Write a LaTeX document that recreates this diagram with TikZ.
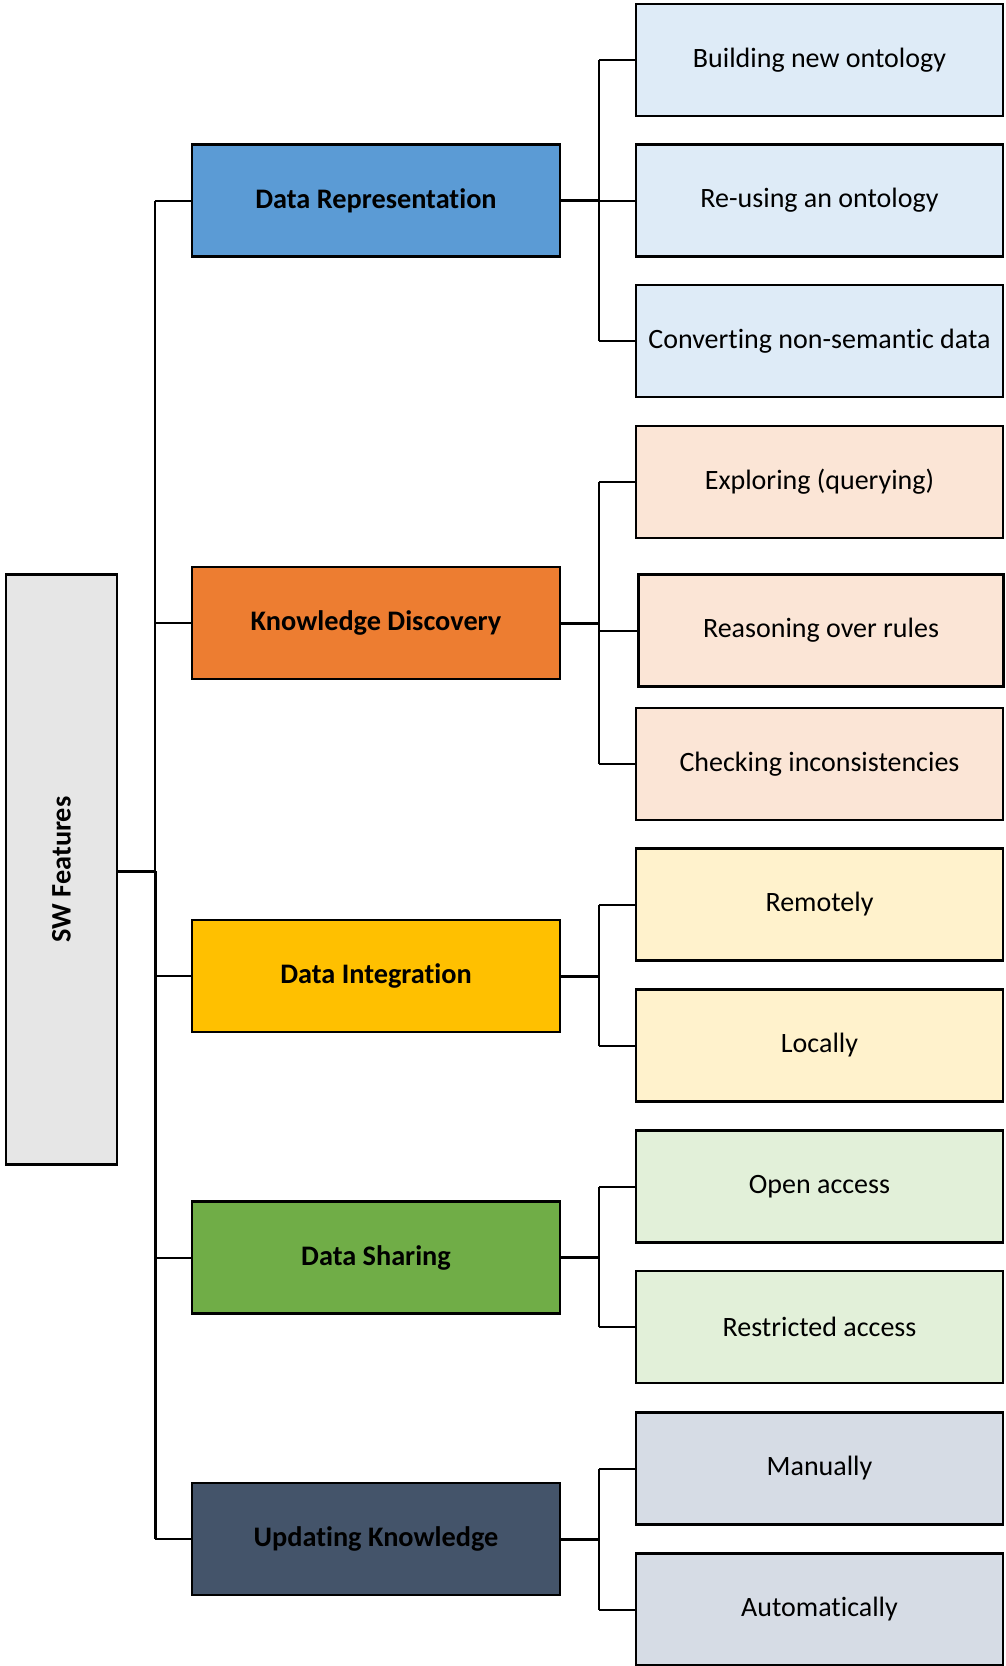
\documentclass[tikz,border=0pt]{standalone}
\usepackage{fontspec}
\setmainfont{Carlito}[Ligatures={NoCommon}]
\definecolor{cDR}{HTML}{5B9BD5}
\definecolor{cKD}{HTML}{ED7D31}
\definecolor{cDI}{HTML}{FFC000}
\definecolor{cDS}{HTML}{70AD47}
\definecolor{cUK}{HTML}{44546A}
\definecolor{lDR}{HTML}{DEEBF7}
\definecolor{lKD}{HTML}{FBE5D6}
\definecolor{lDI}{HTML}{FFF2CC}
\definecolor{lDS}{HTML}{E2F0D9}
\definecolor{lUK}{HTML}{D6DCE5}
\definecolor{cRoot}{HTML}{E6E6E6}
\tikzset{
  box/.style={draw=black, line width=2.5pt, inner sep=0pt, font=\fontsize{28}{33}\selectfont},
  catbox/.style={box, minimum width=368pt, minimum height=112pt, font=\fontsize{28.3}{33}\selectfont\bfseries},
  leafbox/.style={box, minimum width=367pt, minimum height=112pt},
  link/.style={line width=2pt},
  thicklink/.style={line width=3pt}
}
\begin{document}
\begin{tikzpicture}[x=1pt,y=-1pt]
\useasboundingbox (0,0) rectangle (1005,1666);
% root
\node[box, fill=cRoot, minimum width=111pt, minimum height=590pt, font=\fontsize{28.3}{33}\selectfont\bfseries] (root) at (61.5,869.5) {\rotatebox{90}{SW Features}};
% categories
\node[catbox, fill=cDR] (dr) at (376,200.5) {Data Representation};
\node[catbox, fill=cKD] (kd) at (376,623) {Knowledge Discovery};
\node[catbox, fill=cDI] (di) at (376,976) {Data Integration};
\node[catbox, fill=cDS] (ds) at (376,1257.5) {Data Sharing};
\node[catbox, fill=cUK] (uk) at (376,1539) {Updating Knowledge};
% leaves
\node[leafbox, fill=lDR] (l11) at (819.5,60) {Building new ontology};
\node[leafbox, fill=lDR] (l12) at (819.5,200.5) {Re-using an ontology};
\node[leafbox, fill=lDR] (l13) at (819.5,341) {Converting non-semantic data};
\node[leafbox, fill=lKD] (l21) at (819.5,482) {Exploring (querying)};
\node[leafbox, fill=lKD, minimum width=365pt] (l22) at (821,630.5) {Reasoning over rules};
\node[leafbox, fill=lKD] (l23) at (819.5,764) {Checking inconsistencies};
\node[leafbox, fill=lDI] (l31) at (819.5,904.5) {Remotely};
\node[leafbox, fill=lDI] (l32) at (819.5,1045.5) {Locally};
\node[leafbox, fill=lDS] (l41) at (819.5,1186.5) {Open access};
\node[leafbox, fill=lDS] (l42) at (819.5,1327) {Restricted access};
\node[leafbox, fill=lUK] (l51) at (819.5,1468.5) {Manually};
\node[leafbox, fill=lUK] (l52) at (819.5,1609.5) {Automatically};
% trunk
\coordinate (J0) at (155,871);
\draw[thicklink] (root.east |- J0) -- (J0);
\draw[link] (J0 |- dr) -- (J0);
\draw[thicklink] (J0) -- (J0 |- uk);
\foreach \c in {dr,kd,di,ds,uk}{
  \draw[link] (J0 |- \c) -- (\c.west);
}
% branches
\coordinate (B) at (599,0);
\draw[thicklink] (dr.east) -- (dr.east -| B);
\draw[link] (B |- l11) -- (B |- l13);
\foreach \l in {l11,l12,l13}{\draw[link] (B |- \l) -- (\l.west);}
\draw[thicklink] (kd.east) -- (kd.east -| B);
\draw[link] (B |- l21) -- (B |- l23);
\foreach \l in {l21,l22,l23}{\draw[link] (B |- \l) -- (\l.west);}
\draw[thicklink] (di.east) -- (di.east -| B);
\draw[link] (B |- l31) -- (B |- l32);
\foreach \l in {l31,l32}{\draw[link] (B |- \l) -- (\l.west);}
\draw[thicklink] (ds.east) -- (ds.east -| B);
\draw[link] (B |- l41) -- (B |- l42);
\foreach \l in {l41,l42}{\draw[link] (B |- \l) -- (\l.west);}
\draw[thicklink] (uk.east) -- (uk.east -| B);
\draw[link] (B |- l51) -- (B |- l52);
\foreach \l in {l51,l52}{\draw[link] (B |- \l) -- (\l.west);}
\end{tikzpicture}
\end{document}
